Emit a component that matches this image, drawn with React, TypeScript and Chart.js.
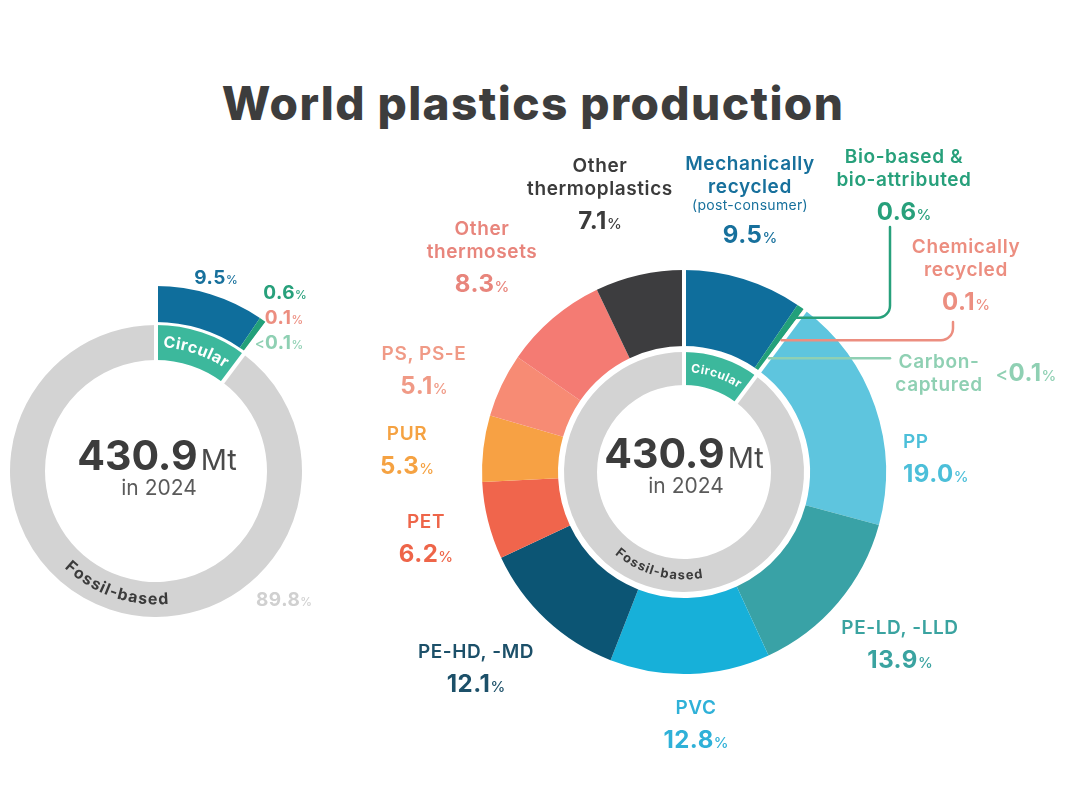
import { useEffect, useRef } from 'react';
import { Chart, registerables } from 'chart.js';

Chart.register(...registerables);

// ---- data ----
const title = 'World plastics production';
const totalMt = '430.9';
const year = '2024';
const groupNames = ['Circular', 'Fossil-based'];
const circularCategories = ['Mechanically\nrecycled', 'Bio-based &\nbio-attributed', 'Chemically\nrecycled', 'Carbon-\ncaptured'];
const circularShares = [9.5, 0.6, 0.1, 0.05];
const mechNote = '(post-consumer)';
const fossilCategories = ['PP', 'PE-LD, -LLD', 'PVC', 'PE-HD, -MD', 'PET', 'PUR', 'PS, PS-E', 'Other\nthermosets', 'Other\nthermoplastics'];
const fossilShares = [19.0, 13.9, 12.8, 12.1, 6.2, 5.3, 5.1, 8.3, 7.1];

const sum = (a: number[]) => a.reduce((s, v) => s + v, 0);
const circularTotal = sum(circularShares);
const fossilTotal = sum(fossilShares);

// ---- styles ----
const FONT = 'Inter, "Noto Sans", sans-serif';
const circularColors = ['#0f6e9c', '#22a07a', '#ef9383', '#9fd8bf'];
const fossilColors = ['#5ec5de', '#39a2a6', '#17b0d9', '#0c5574', '#f0654c', '#f7a144', '#f78b74', '#f47b73', '#3d3d3f'];
const circularText = ['#17709c', '#27a07b', '#ec8e80', '#8fd0b3'];
const fossilText = ['#4cbfd9', '#3aa3a0', '#2fb1d8', '#1c5069', '#ee6549', '#f5a242', '#f09a86', '#e8857c', '#3b3b3b'];
const ringColors = ['#3cb89c', '#d3d3d3'];
const fossilPctColor = '#d0d0d0';

// label layout (centre of first line)
const circularLabelPos = [
  { x: 750, y: 163 },
  { x: 904, y: 156 },
  { x: 966, y: 246 },
  { x: 939, y: 361 },
];
const carbonPctPos = { x: 1026, y: 373 };
const fossilLabelPos = [
  { x: 903, y: 441, left: true },
  { x: 900, y: 627 },
  { x: 696, y: 707 },
  { x: 476, y: 651 },
  { x: 426, y: 521 },
  { x: 407, y: 433 },
  { x: 424, y: 353 },
  { x: 482, y: 228 },
  { x: 600, y: 165 },
];
const leftPctPos = [
  { x: 216, y: 277 },
  { x: 285, y: 292 },
  { x: 284, y: 317 },
  { x: 279, y: 342 },
];
const leftFossilPctPos = { x: 284, y: 599 };

// leader lines from thin circular slices (right chart)
const leaders = [
  { index: 1, r: 189, toX: 890, toY: 227 },
  { index: 2, r: 164, toX: 953, toY: 322 },
  { index: 3, r: 142, toX: 890 },
];

function arcText(ctx: CanvasRenderingContext2D, text: string, cx: number, cy: number, r: number, mid: number, top: boolean, spacing = 0) {
  const chars = [...text];
  const widths = chars.map((c) => ctx.measureText(c).width + spacing);
  const total = sum(widths);
  let acc = 0;
  chars.forEach((c, i) => {
    const off = (acc + widths[i] / 2 - total / 2) / r;
    const a = top ? mid + off : mid - off;
    ctx.save();
    ctx.translate(cx + r * Math.cos(a), cy + r * Math.sin(a));
    ctx.rotate(top ? a + Math.PI / 2 : a - Math.PI / 2);
    ctx.fillText(c, 0, 0);
    ctx.restore();
    acc += widths[i];
  });
}

const separatorPlugin = {
  id: 'separators',
  afterDatasetsDraw(chart: any) {
    const outer = chart.getDatasetMeta(0).data;
    const inner = chart.getDatasetMeta(chart.data.datasets.length - 1).data;
    const first = outer[0];
    const last = outer[circularShares.length - 1];
    const r0 = inner[0].innerRadius - 1;
    const r1 = first.outerRadius + 1;
    const ctx = chart.ctx;
    ctx.save();
    ctx.strokeStyle = '#ffffff';
    ctx.lineWidth = 4;
    [first.startAngle, last.endAngle].forEach((a: number) => {
      ctx.beginPath();
      ctx.moveTo(first.x + r0 * Math.cos(a), first.y + r0 * Math.sin(a));
      ctx.lineTo(first.x + r1 * Math.cos(a), first.y + r1 * Math.sin(a));
      ctx.stroke();
    });
    ctx.restore();
  },
};

const ringTextPlugin = (circFont: string, fossilFont: string, fossilDeg: number, spacing: number) => ({
  id: 'ringText',
  afterDatasetsDraw(chart: any) {
    const meta = chart.getDatasetMeta(chart.data.datasets.length - 1);
    const circ = meta.data[0];
    const r = (circ.innerRadius + circ.outerRadius) / 2;
    const ctx = chart.ctx;
    ctx.save();
    ctx.textAlign = 'center';
    ctx.textBaseline = 'middle';
    ctx.font = circFont;
    ctx.fillStyle = '#ffffff';
    arcText(ctx, groupNames[0], circ.x, circ.y, r, (circ.startAngle + circ.endAngle) / 2, true, spacing);
    ctx.font = fossilFont;
    ctx.fillStyle = '#3b3b3b';
    arcText(ctx, groupNames[1], circ.x, circ.y, r, (fossilDeg * Math.PI) / 180, false, spacing);
    ctx.restore();
  },
});

const leaderPlugin = {
  id: 'leaders',
  afterDatasetsDraw(chart: any) {
    const arcs = chart.getDatasetMeta(0).data;
    const ctx = chart.ctx;
    ctx.save();
    ctx.lineWidth = 2.5;
    ctx.lineCap = 'round';
    leaders.forEach((l) => {
      const el = arcs[l.index];
      const a = (el.startAngle + el.endAngle) / 2;
      const px = el.x + l.r * Math.cos(a);
      const py = el.y + l.r * Math.sin(a);
      ctx.strokeStyle = circularText[l.index];
      ctx.beginPath();
      ctx.moveTo(px, py);
      if (l.toY === undefined) {
        ctx.lineTo(l.toX, py);
      } else {
        const rc = 12;
        ctx.lineTo(l.toX - rc, py);
        ctx.arcTo(l.toX, py, l.toX, py - rc, rc);
        ctx.lineTo(l.toX, l.toY);
      }
      ctx.stroke();
    });
    ctx.restore();
  },
};

function leftConfig(): any {
  return {
    type: 'doughnut',
    data: {
      labels: [...circularCategories, 'Fossil-based'],
      datasets: [
        {
          data: [...circularShares, fossilTotal],
          backgroundColor: [...circularColors, 'rgba(0,0,0,0)'],
          borderWidth: 0,
          weight: 36,
        },
        { data: [1], backgroundColor: 'rgba(0,0,0,0)', borderWidth: 0, weight: 3 },
        {
          data: [circularTotal, fossilTotal],
          backgroundColor: ringColors,
          borderWidth: 0,
          weight: 35,
        },
      ],
    },
    options: {
      responsive: false,
      animation: false,
      radius: 185,
      cutout: `${(111 / 185) * 100}%`,
      layout: { padding: { left: 0, right: 768, top: 132, bottom: 0 } },
      events: [],
      plugins: { legend: { display: false }, tooltip: { enabled: false } },
    },
    plugins: [separatorPlugin, ringTextPlugin(`700 16px ${FONT}`, `700 16px ${FONT}`, 109, 0.8)],
  };
}

function rightConfig(): any {
  return {
    type: 'doughnut',
    data: {
      labels: [...circularCategories, ...fossilCategories],
      datasets: [
        {
          data: [...circularShares, ...fossilShares],
          backgroundColor: [...circularColors, ...fossilColors],
          borderWidth: 0,
          weight: 76,
        },
        { data: [1], backgroundColor: 'rgba(0,0,0,0)', borderWidth: 0, weight: 6 },
        {
          data: [circularTotal, fossilTotal],
          backgroundColor: ringColors,
          borderWidth: 0,
          weight: 33,
        },
      ],
    },
    options: {
      responsive: false,
      animation: false,
      radius: 202,
      cutout: `${(87 / 202) * 100}%`,
      layout: { padding: { left: 288, right: 0, top: 134, bottom: 0 } },
      events: [],
      plugins: { legend: { display: false }, tooltip: { enabled: false } },
    },
    plugins: [separatorPlugin, ringTextPlugin(`700 12px ${FONT}`, `700 13px ${FONT}`, 105, 0.8), leaderPlugin],
  };
}

function DonutCanvas({ config }: { config: () => any }) {
  const ref = useRef<HTMLCanvasElement>(null);
  useEffect(() => {
    if (!ref.current) return;
    const chart = new Chart(ref.current, config());
    return () => chart.destroy();
  }, [config]);
  return <canvas ref={ref} width={1080} height={810} style={{ position: 'absolute', left: 0, top: 0 }} />;
}

const fmt = (v: number) => (v < 0.1 ? '0.1' : v.toFixed(1));

function Pct({ value, color, size }: { value: number; color: string; size: number }) {
  return (
    <span style={{ color, whiteSpace: 'nowrap' }}>
      {value < 0.1 && <span style={{ fontSize: size * 0.8, fontWeight: 500 }}>&lt;</span>}
      <span style={{ fontSize: size, fontWeight: 700, letterSpacing: 0.5 }}>{fmt(value)}</span>
      <span style={{ fontSize: size * 0.62, fontWeight: 500 }}>%</span>
    </span>
  );
}

function At({ x, y, children }: { x: number; y: number; children: any }) {
  return (
    <div style={{ position: 'absolute', left: x, top: y, transform: 'translate(-50%, -50%)', lineHeight: 1, whiteSpace: 'nowrap' }}>
      {children}
    </div>
  );
}

function LabelBlock({ x, y, left, name, note, value, color }: any) {
  const lines: string[] = name.split('\n');
  return (
    <div
      style={{
        position: 'absolute',
        left: x,
        top: y - 11.5,
        transform: left ? 'none' : 'translateX(-50%)',
        textAlign: left ? 'left' : 'center',
        color,
        whiteSpace: 'nowrap',
      }}
    >
      {lines.map((l, i) => (
        <div key={i} style={{ fontSize: 19, fontWeight: 600, lineHeight: '23px', letterSpacing: 0.6 }}>
          {l}
        </div>
      ))}
      {note && <div style={{ fontSize: 14, fontWeight: 400, lineHeight: '18px', marginTop: -2, letterSpacing: 0.3 }}>{note}</div>}
      {value !== undefined && (
        <div style={{ lineHeight: '30px', marginTop: 6 }}>
          <Pct value={value} color={color} size={24} />
        </div>
      )}
    </div>
  );
}

function CenterTotal({ x, y }: { x: number; y: number }) {
  return (
    <>
      <At x={x} y={y}>
        <span style={{ fontSize: 41, fontWeight: 700, color: '#3c3c3c' }}>{totalMt}</span>
        <span style={{ fontSize: 29, fontWeight: 400, color: '#4a4a4a', marginLeft: 3 }}>Mt</span>
      </At>
      <At x={x + 2} y={y + 32}>
        <span style={{ fontSize: 21, fontWeight: 400, color: '#5a5a5a' }}>in {year}</span>
      </At>
    </>
  );
}

export default function App() {
  return (
    <div
      style={{
        position: 'absolute',
        left: 0,
        top: 0,
        width: 1080,
        height: 810,
        background: '#ffffff',
        fontFamily: FONT,
        overflow: 'hidden',
      }}
    >
      <At x={533} y={103}>
        <span style={{ fontSize: 46, fontWeight: 800, color: '#3d3d3d', letterSpacing: 1.4 }}>{title}</span>
      </At>

      <DonutCanvas config={leftConfig} />
      <DonutCanvas config={rightConfig} />

      {/* left chart */}
      <CenterTotal x={157} y={455} />
      {circularShares.map((v, i) => (
        <At key={i} x={leftPctPos[i].x} y={leftPctPos[i].y}>
          <Pct value={v} color={circularText[i]} size={19} />
        </At>
      ))}
      <At x={leftFossilPctPos.x} y={leftFossilPctPos.y}>
        <Pct value={fossilTotal} color={fossilPctColor} size={19} />
      </At>

      {/* right chart */}
      <CenterTotal x={684} y={453} />
      {circularCategories.map((name, i) => (
        <LabelBlock
          key={name}
          x={circularLabelPos[i].x}
          y={circularLabelPos[i].y}
          name={name}
          note={i === 0 ? mechNote : undefined}
          value={i === 3 ? undefined : circularShares[i]}
          color={circularText[i]}
        />
      ))}
      <At x={carbonPctPos.x} y={carbonPctPos.y}>
        <Pct value={circularShares[3]} color={circularText[3]} size={24} />
      </At>
      {fossilCategories.map((name, i) => (
        <LabelBlock
          key={name}
          x={fossilLabelPos[i].x}
          y={fossilLabelPos[i].y}
          left={fossilLabelPos[i].left}
          name={name}
          value={fossilShares[i]}
          color={fossilText[i]}
        />
      ))}
    </div>
  );
}
